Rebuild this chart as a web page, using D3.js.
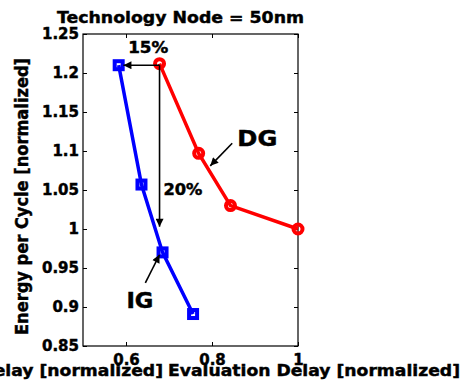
<!DOCTYPE html>
<html>
<head>
<meta charset="utf-8">
<script src="https://cdn.jsdelivr.net/npm/d3@7"></script>
<style>
  body { margin: 0; background: #fff; }
  svg { display: block; font-family: "DejaVu Sans", sans-serif; font-weight: bold; }
  text { stroke: #000; stroke-width: 0.45px; }
</style>
</head>
<body>
<svg id="chart"></svg>
<script>
const width = 461;
const height = 385;
const margin = {top: 34, right: 163, bottom: 39, left: 83};

// DG (double gate) and IG (independent gate) points
const dgDelay = [0.678, 0.769, 0.843, 1.0];
const dgEnergy = [1.212, 1.097, 1.030, 1.0];
const igDelay = [0.583, 0.636, 0.685, 0.756];
const igEnergy = [1.210, 1.057, 0.970, 0.891];

const xTicks = [0.6, 0.8, 1];
const yTicks = [0.85, 0.9, 0.95, 1, 1.05, 1.1, 1.15, 1.2, 1.25];

const svg = d3.select('#chart').attr('width', width).attr('height', height);

const x = d3.scaleLinear().domain([0.5, 1]).range([margin.left, width - margin.right]);
const y = d3.scaleLinear().domain([0.85, 1.25]).range([height - margin.bottom, margin.top]);

const fmt = d => d3.format('~g')(d);

// frame with inward ticks on all four sides
svg.append('rect')
    .attr('x', x(0.5)).attr('y', y(1.25))
    .attr('width', x(1) - x(0.5)).attr('height', y(0.85) - y(1.25))
    .attr('fill', 'none').attr('stroke', '#000').attr('stroke-width', 1.2);

function styleAxis(g) {
    g.select('.domain').remove();
    g.selectAll('.tick line').attr('stroke', '#000');
    g.selectAll('.tick text').attr('font-size', 15).attr('font-weight', 'bold')
        .attr('font-family', '"DejaVu Sans", sans-serif').attr('fill', '#000');
}

svg.append('g')
    .attr('transform', `translate(0,${y(0.85)})`)
    .call(d3.axisBottom(x).tickValues(xTicks).tickFormat(fmt).tickSizeInner(-4).tickPadding(8))
    .call(styleAxis);
svg.append('g')
    .attr('transform', `translate(0,${y(1.25)})`)
    .call(d3.axisTop(x).tickValues(xTicks).tickFormat('').tickSizeInner(-4))
    .call(styleAxis);
svg.append('g')
    .attr('transform', `translate(${x(0.5)},0)`)
    .call(d3.axisLeft(y).tickValues(yTicks).tickFormat(fmt).tickSizeInner(-4).tickPadding(4))
    .call(styleAxis);
svg.append('g')
    .attr('transform', `translate(${x(1)},0)`)
    .call(d3.axisRight(y).tickValues(yTicks).tickFormat('').tickSizeInner(-4))
    .call(styleAxis);

// series
const line = d3.line().x(d => x(d[0])).y(d => y(d[1]));
const dg = d3.zip(dgDelay, dgEnergy);
const ig = d3.zip(igDelay, igEnergy);

svg.append('path').datum(dg).attr('d', line)
    .attr('fill', 'none').attr('stroke', '#ff0000').attr('stroke-width', 3.5);
svg.selectAll('.dg').data(dg).enter().append('circle')
    .attr('cx', d => x(d[0])).attr('cy', d => y(d[1])).attr('r', 4.5)
    .attr('fill', 'none').attr('stroke', '#ff0000').attr('stroke-width', 4);

svg.append('path').datum(ig).attr('d', line)
    .attr('fill', 'none').attr('stroke', '#0000ff').attr('stroke-width', 3.5);
svg.selectAll('.ig').data(ig).enter().append('rect')
    .attr('x', d => x(d[0]) - 4).attr('y', d => y(d[1]) - 4)
    .attr('width', 8).attr('height', 8)
    .attr('fill', 'none').attr('stroke', '#0000ff').attr('stroke-width', 4);

// arrows
svg.append('defs').append('marker')
    .attr('id', 'head').attr('viewBox', '0 0 10 10')
    .attr('refX', 10).attr('refY', 5)
    .attr('markerWidth', 9).attr('markerHeight', 8)
    .attr('markerUnits', 'userSpaceOnUse').attr('orient', 'auto')
    .append('path').attr('d', 'M0,0L10,5L0,10Z').attr('fill', '#000');

const arrows = [
    [[0.678, 1.21], [0.594, 1.21]],
    [[0.678, 1.21], [0.678, 1.003]],
    [[0.847, 1.110], [0.796, 1.081]],
    [[0.645, 0.931], [0.678, 0.967]]
];
svg.selectAll('.arrow').data(arrows).enter().append('line')
    .attr('x1', d => x(d[0][0])).attr('y1', d => y(d[0][1]))
    .attr('x2', d => x(d[1][0])).attr('y2', d => y(d[1][1]))
    .attr('stroke', '#000').attr('stroke-width', 1.6)
    .attr('marker-end', 'url(#head)');

const notes = [
    {t: '15%', x: 0.605, y: 1.226, size: 15, w: 40},
    {t: '20%', x: 0.687, y: 1.044, size: 15, w: 39},
    {t: 'DG', x: 0.859, y: 1.106, size: 21, w: 40},
    {t: 'IG', x: 0.601, y: 0.899, size: 21, w: 27}
];
svg.selectAll('.note').data(notes).enter().append('text')
    .attr('x', d => x(d.x)).attr('y', d => y(d.y))
    .attr('font-size', d => d.size)
    .attr('textLength', d => d.w).attr('lengthAdjust', 'spacingAndGlyphs')
    .text(d => d.t);

// title and axis labels
svg.append('text').attr('x', 57).attr('y', 23)
    .attr('font-size', 16).attr('textLength', 247).attr('lengthAdjust', 'spacingAndGlyphs')
    .text('Technology Node = 50nm');

svg.append('text').attr('transform', 'translate(28,335) rotate(-90)')
    .attr('font-size', 18).attr('textLength', 277).attr('lengthAdjust', 'spacingAndGlyphs')
    .text('Energy per Cycle [normalized]');

svg.append('text').attr('x', -129).attr('y', 376)
    .attr('font-size', 16).attr('textLength', 292).attr('lengthAdjust', 'spacingAndGlyphs')
    .text('Evaluation Delay [normalized]');
svg.append('text').attr('x', 168).attr('y', 376)
    .attr('font-size', 16).attr('textLength', 292).attr('lengthAdjust', 'spacingAndGlyphs')
    .text('Evaluation Delay [normalized]');
</script>
</body>
</html>
